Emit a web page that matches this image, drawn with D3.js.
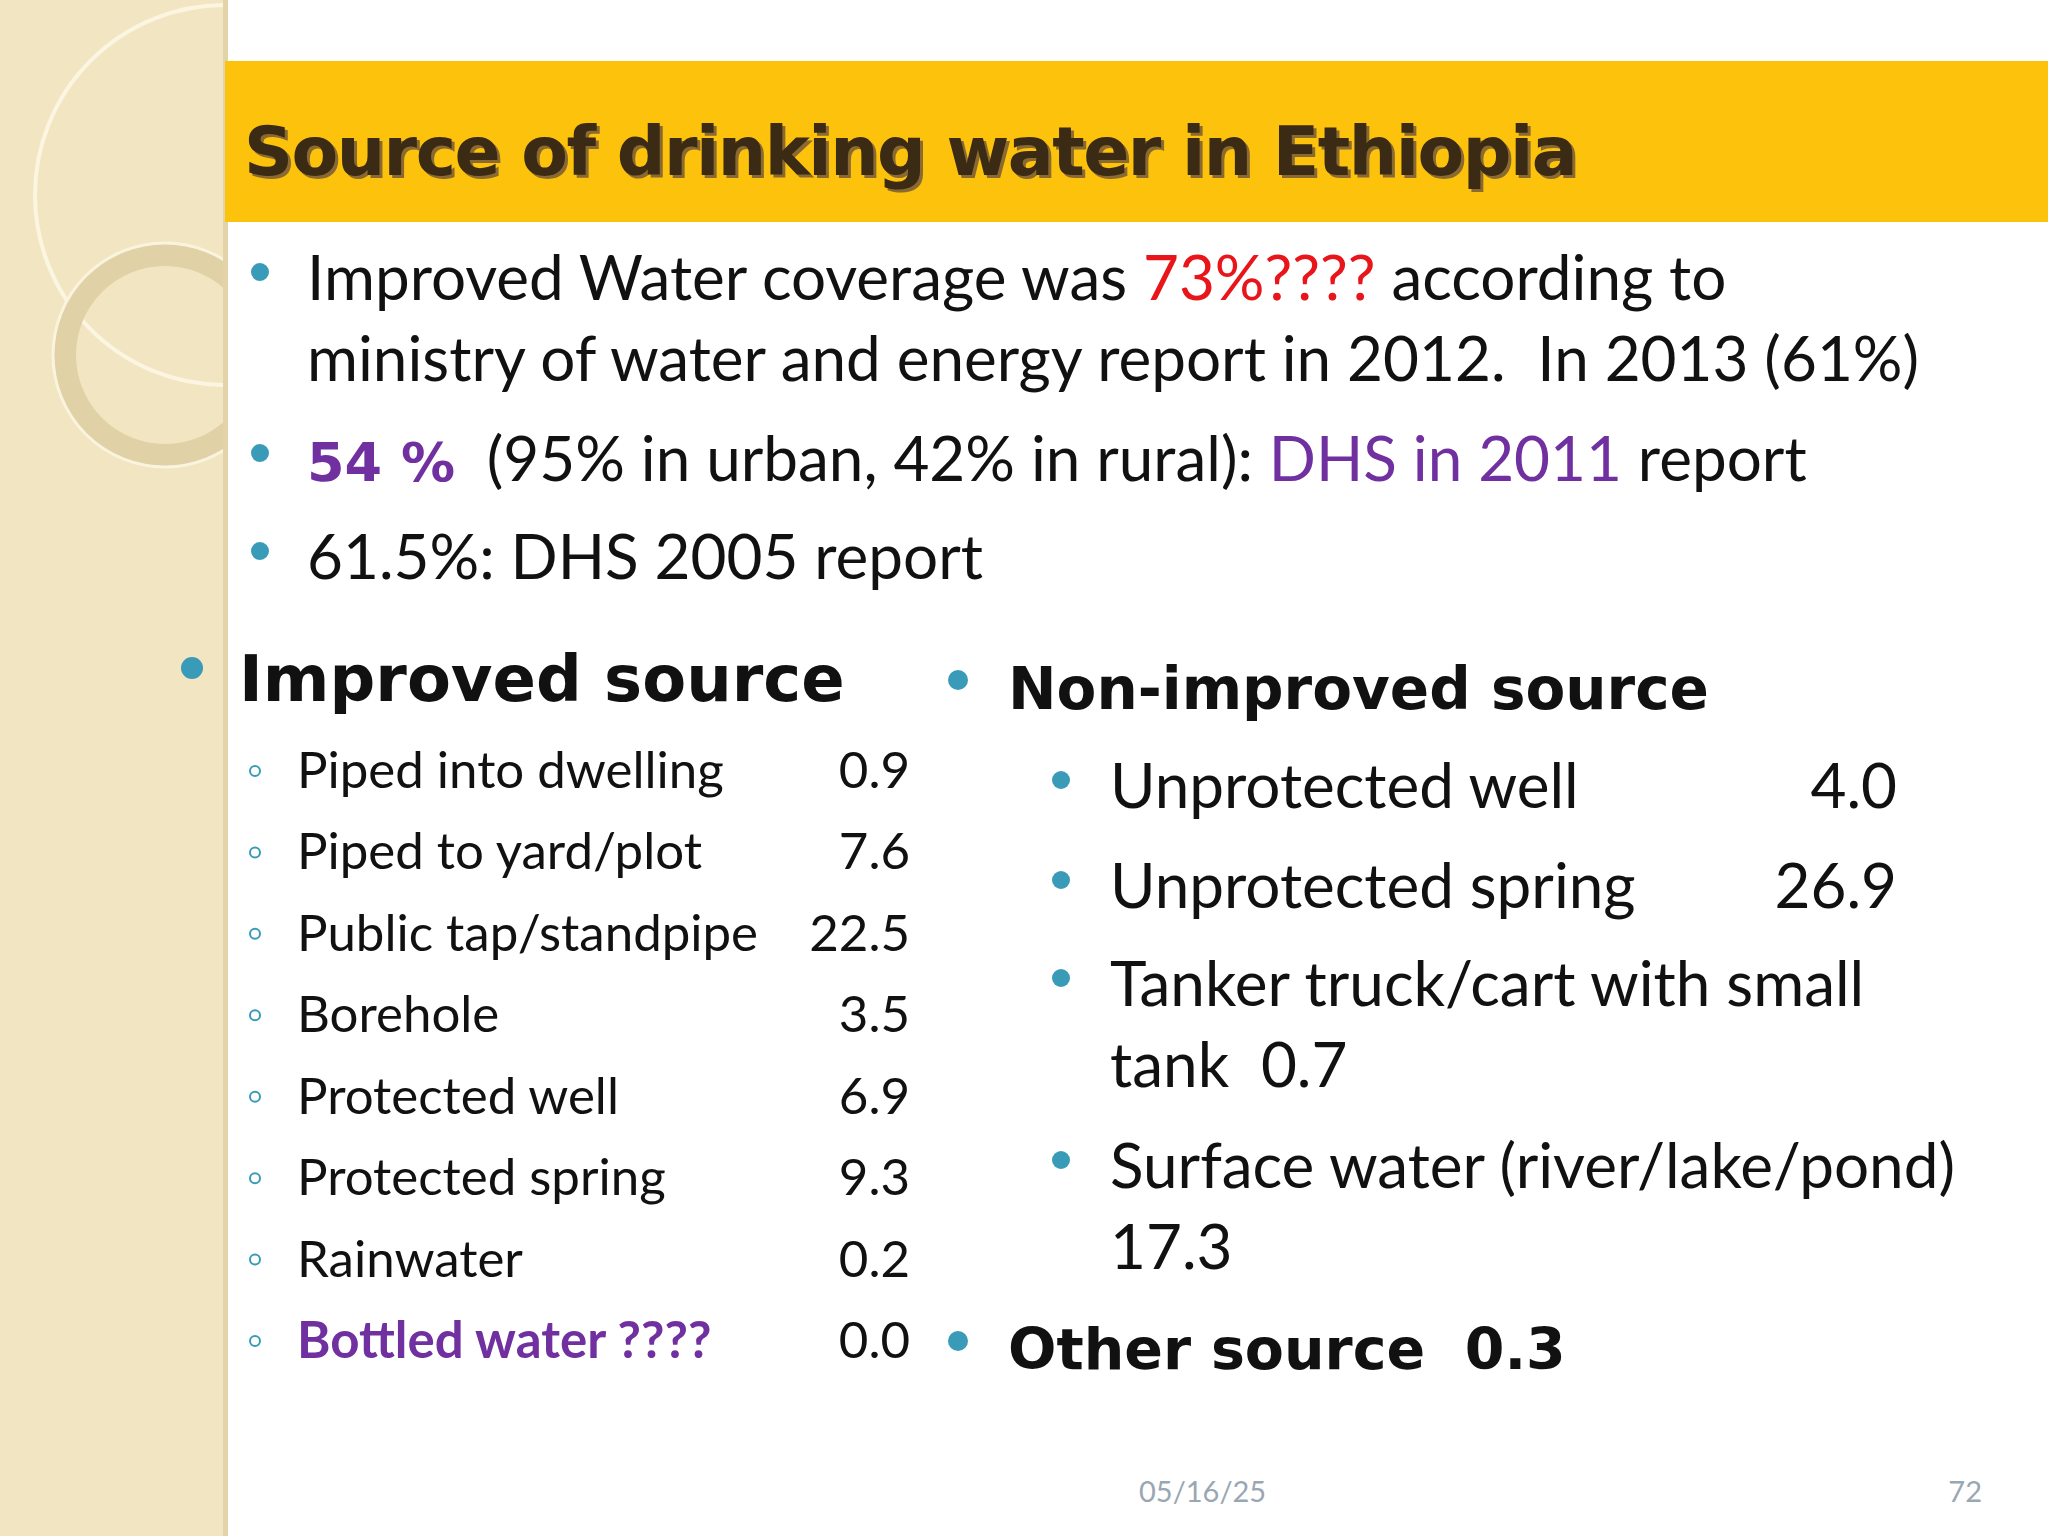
<!DOCTYPE html>
<html><head><meta charset="utf-8">
<script src="https://cdn.jsdelivr.net/npm/d3@7"></script>
<style>body{margin:0;background:#fff}svg{display:block}</style>
</head><body>
<script>
const title = "Source of drinking water in Ethiopia";
const improvedLabels = ["Piped into dwelling","Piped to yard/plot","Public tap/standpipe","Borehole","Protected well","Protected spring","Rainwater","Bottled water ????"];
const improvedValues = ["0.9","7.6","22.5","3.5","6.9","9.3","0.2","0.0"];
const nonImprovedLabels = [["Unprotected well"],["Unprotected spring"],["Tanker truck/cart with small","tank  0.7"],["Surface water (river/lake/pond)","17.3"]];
const nonImprovedValues = ["4.0","26.9","",""];
const otherSource = "Other source  0.3";
const footerDate = "05/16/25", pageNo = "72";

const W=2048,H=1536;
const svg=d3.select("body").append("svg").attr("width",W).attr("height",H);
const body="Lato, 'Open Sans', sans-serif", bold="'DejaVu Sans', sans-serif";
const teal="#3a9bb8", purple="#7030a0";

svg.append("defs").append("clipPath").attr("id","strip").append("rect").attr("x",0).attr("y",0).attr("width",223).attr("height",H);
svg.append("rect").attr("x",0).attr("y",0).attr("width",225).attr("height",H).attr("fill","#f2e6c2");
svg.append("rect").attr("x",223).attr("y",0).attr("width",5).attr("height",H).attr("fill","#e2d3a8");
const deco=svg.append("g").attr("clip-path","url(#strip)");
deco.append("circle").attr("cx",225).attr("cy",195).attr("r",190).attr("fill","none").attr("stroke","#fbf5e2").attr("stroke-width",4);
deco.append("circle").attr("cx",165).attr("cy",355).attr("r",100).attr("fill","none").attr("stroke","#e0d1a6").attr("stroke-width",22);
deco.append("circle").attr("cx",165).attr("cy",355).attr("r",112).attr("fill","none").attr("stroke","#faf3de").attr("stroke-width",3);

svg.append("rect").attr("x",225).attr("y",61).attr("width",W-225).attr("height",161).attr("fill","#fdc20b");
[["#8a6a30",3],["#3b2a14",0]].forEach(([c,o])=>svg.append("text").attr("x",244+o).attr("y",175+o).text(title).attr("font-family",bold).attr("font-weight","bold").attr("font-size",68).attr("fill",c).attr("letter-spacing",-1.5));

function dot(x,y,r){svg.append("circle").attr("cx",x).attr("cy",y).attr("r",r).attr("fill",teal);}

const t1=svg.append("g").attr("font-family",body).attr("font-size",62).attr("fill","#111");
const tl=[{y:300,parts:[["Improved Water coverage was ","#111"],["73%????","#e8151b"],[" according to","#111"]],b:true},
 {y:381,parts:[["ministry of water and energy report in 2012.  In 2013 (61%)","#111"]],b:false},
 {y:481,parts:[["54 %","#7030a0",true],["  (95% in urban, 42% in rural): ","#111"],["DHS in 2011","#7030a0"],[" report","#111"]],b:true},
 {y:579,parts:[["61.5%: DHS 2005 report","#111"]],b:true}];
tl.forEach(l=>{
  if(l.b) dot(260,l.y-28,9);
  const t=t1.append("text").attr("x",307).attr("y",l.y).style("white-space","pre");
  l.parts.forEach(p=>{const s=t.append("tspan").text(p[0]).attr("fill",p[1]);
    if(p[2]) s.attr("font-weight","bold").attr("font-family",bold).attr("font-size",54);});
});

dot(192,668,11);
svg.append("text").attr("x",239).attr("y",701).text("Improved source").attr("font-family",bold).attr("font-weight","bold").attr("font-size",64).attr("fill","#111");
const yI=d3.scaleLinear().domain([0,improvedLabels.length-1]).range([788,1358]);
const gI=svg.append("g").attr("font-family",body).attr("font-size",51);
improvedLabels.forEach((lab,i)=>{
  const last=i===improvedLabels.length-1;
  gI.append("circle").attr("cx",255).attr("cy",yI(i)-17).attr("r",5).attr("fill","none").attr("stroke",teal).attr("stroke-width",2);
  gI.append("text").attr("x",297).attr("y",yI(i)).text(lab).attr("fill",last?purple:"#111").attr("font-weight",last?"bold":"normal");
  gI.append("text").attr("x",910).attr("y",yI(i)).attr("text-anchor","end").text(improvedValues[i]).attr("fill","#111");
});

dot(958,680,10);
svg.append("text").attr("x",1008).attr("y",709).text("Non-improved source").attr("font-family",bold).attr("font-weight","bold").attr("font-size",58).attr("fill","#111");
const nY=[808,908,1006,1188];
const gN=svg.append("g").attr("font-family",body).attr("font-size",62).attr("fill","#111");
nonImprovedLabels.forEach((lines,i)=>{
  dot(1061,nY[i]-28,9);
  lines.forEach((ln,j)=>gN.append("text").attr("x",1110).attr("y",nY[i]+j*81).text(ln).style("white-space","pre"));
  if(nonImprovedValues[i]) gN.append("text").attr("x",1897).attr("y",nY[i]).attr("text-anchor","end").text(nonImprovedValues[i]);
});
dot(958,1341,10);
svg.append("text").attr("x",1008).attr("y",1369).text(otherSource).attr("font-family",bold).attr("font-weight","bold").attr("font-size",57).attr("fill","#111").style("white-space","pre");

svg.append("text").attr("x",1139).attr("y",1502).text(footerDate).attr("font-family",body).attr("font-size",29).attr("fill","#9aa7b3");
svg.append("text").attr("x",1982).attr("y",1502).attr("text-anchor","end").text(pageNo).attr("font-family",body).attr("font-size",29).attr("fill","#9aa7b3");
</script>
</body></html>
